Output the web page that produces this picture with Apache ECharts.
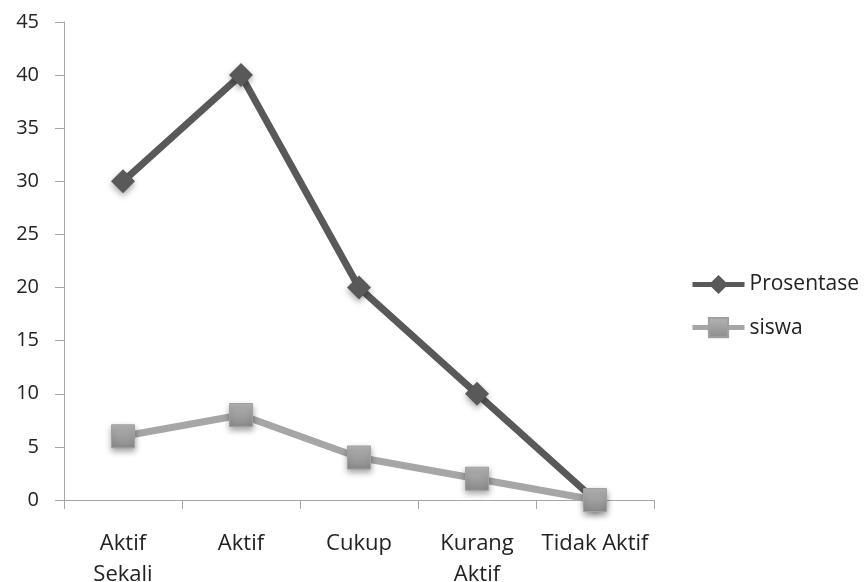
<!DOCTYPE html>
<html><head><meta charset="utf-8">
<script src="https://cdn.jsdelivr.net/npm/echarts@6/dist/echarts.min.js"></script>
<style>html,body{margin:0;padding:0;background:#fff}#c{width:865px;height:582px}</style>
</head><body><div id="c"></div>
<script>
const categories = ['Aktif Sekali', 'Aktif', 'Cukup', 'Kurang Aktif', 'Tidak Aktif'];
const prosentase = [30, 40, 20, 10, 0];
const siswa = [6, 8, 4, 2, 0];
const yTicks = { min: 0, max: 45, interval: 5 };

const font = "'Open Sans', 'Noto Sans', sans-serif";
const chart = echarts.init(document.getElementById('c'));
chart.setOption({
  animation: false,
  backgroundColor: '#fff',
  grid: { left: 64, right: 211, top: 22, bottom: 82, containLabel: false, outerBoundsMode: 'none' },
  legend: {
    orient: 'vertical', left: 685, top: 269, itemGap: 22,
    itemWidth: 52, itemHeight: 24,
    lineStyle: { width: 5 },
    textStyle: { fontFamily: font, fontSize: 21, color: '#222', padding: [0, 0, 0, 0] },
    data: ['Prosentase', 'siswa']
  },
  xAxis: {
    type: 'category', data: categories, boundaryGap: true,
    axisLine: { lineStyle: { color: '#a6a6a6', width: 1 } },
    axisTick: { show: true, length: 9, lineStyle: { color: '#a6a6a6' } },
    axisLabel: {
      margin: 28, fontFamily: font, fontSize: 22, color: '#222', lineHeight: 31, interval: 0,
      formatter: v => v === 'Tidak Aktif' ? v : v.replace(' ', '\n')
    },
    splitLine: { show: false }
  },
  yAxis: {
    type: 'value', min: yTicks.min, max: yTicks.max, interval: yTicks.interval,
    axisLine: { show: true, lineStyle: { color: '#a6a6a6', width: 1 } },
    axisTick: { show: true, length: 9, lineStyle: { color: '#a6a6a6' } },
    axisLabel: { margin: 25, fontFamily: font, fontSize: 20, color: '#222' },
    splitLine: { show: false }
  },
  series: [
    {
      name: 'Prosentase', type: 'line', data: prosentase,
      symbol: 'diamond', symbolSize: 24,
      lineStyle: { color: '#595959', width: 7 },
      itemStyle: { color: '#595959', shadowBlur: 6, shadowColor: 'rgba(0,0,0,0.35)', shadowOffsetY: 3 },
      z: 2
    },
    {
      name: 'siswa', type: 'line', data: siswa,
      symbol: 'rect', symbolSize: 23,
      lineStyle: { color: '#a6a6a6', width: 7 },
      itemStyle: {
        color: new echarts.graphic.LinearGradient(0, 0, 0, 1, [
          { offset: 0, color: '#b5b5b5' }, { offset: 1, color: '#8a8a8a' }
        ]),
        borderColor: '#a0a0a0', borderWidth: 1,
        shadowBlur: 6, shadowColor: 'rgba(0,0,0,0.35)', shadowOffsetY: 3
      },
      z: 3
    }
  ]
});
</script></body></html>
